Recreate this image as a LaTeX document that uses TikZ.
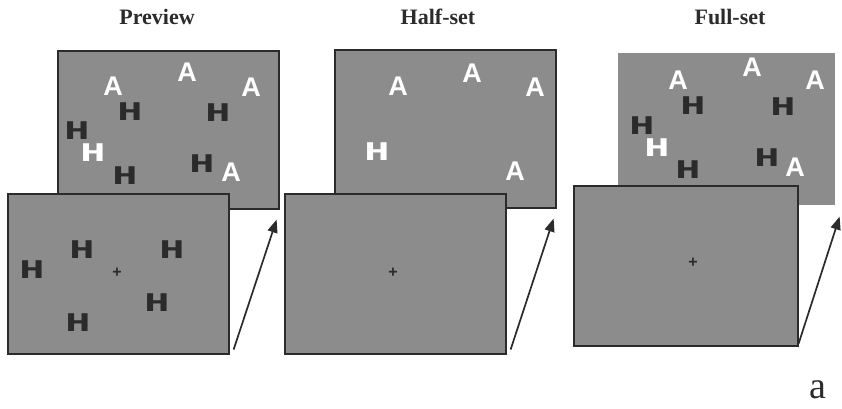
\documentclass[tikz,border=0pt]{standalone}
\usepackage{fontspec}
\setmainfont{Liberation Serif}
\newfontfamily\stimA{Liberation Sans}
\newfontfamily\stimH{Liberation Mono}
\usepackage{tikz}
\usetikzlibrary{arrows.meta}

\definecolor{screengray}{gray}{0.55}
\definecolor{inkdark}{gray}{0.17}

\tikzset{
	screen/.style={draw=inkdark, line width=1.6pt, fill=screengray, inner sep=0pt,
		anchor=north west, minimum width=221pt, minimum height=158pt},
	title/.style={font=\bfseries\fontsize{22}{24}\selectfont, text=inkdark},
	letA/.style={text=white, inner sep=0pt, font=\stimA\bfseries\fontsize{27}{27}\selectfont},
	letH/.style={inner sep=0pt, font=\stimH\bfseries\fontsize{27}{27}\selectfont},
	fixcross/.style={inner sep=0pt, text=inkdark, font=\stimA\bfseries\fontsize{16}{16}\selectfont},
	next/.style={-{Triangle[length=13pt,width=10pt]}, line width=1.7pt, draw=inkdark}
}
\newcommand{\wideH}{\scalebox{1.55}[1]{H}}

\begin{document}
\begin{tikzpicture}[x=1pt, y=-1pt]
	\useasboundingbox[fill=white] (0,0) rectangle (842,408);

	% titles
	\node[title] (t1) at (157,17) {Preview};
	\node[title] (t2) at (438,17) {Half-set};
	\node[title] (t3) at (730,17) {Full-set};

	% preview: search display behind, preview display in front
	\node[screen] (b1) at (57,50) {};
	\foreach \x/\y [count=\i] in {113/86, 187/72, 251/87, 231/172}
		\node[letA] (pa\i) at (\x,\y) {A};
	\foreach \x/\y [count=\i] in {130/112, 218/113, 77/131, 125/176, 202/164}
		\node[letH, text=inkdark] (ph\i) at (\x,\y) {\wideH};
	\node[letH, text=white] (pw) at (93,153) {\wideH};
	\node[screen, minimum height=160pt] (f1) at (7,193) {};
	\foreach \x/\y [count=\i] in {82/250, 172/250, 32/270, 157/303, 78/323}
		\node[letH, text=inkdark] (pf\i) at (\x,\y) {\wideH};
	\node[fixcross] (pc) at (117,273) {+};
	\draw[next] ([shift={(4,-5)}]f1.south east) -- ([shift={(-3,10)}]b1.south east);

	% half-set
	\node[screen] (b2) at (334,49) {};
	\foreach \x/\y [count=\i] in {398/86, 472/73, 535/87, 515/171}
		\node[letA] (ha\i) at (\x,\y) {A};
	\node[letH, text=white] (hw) at (377,152) {\wideH};
	\node[screen, minimum height=160pt] (f2) at (284,193) {};
	\node[fixcross] (hc) at (393,273) {+};
	\draw[next] ([shift={(4,-5)}]f2.south east) -- ([shift={(-3,10)}]b2.south east);

	% full-set (no frame on the back display)
	\node[screen, draw=none, minimum width=217pt, minimum height=152pt] (b3) at (617,52) {};
	\foreach \x/\y [count=\i] in {678/80, 752/67, 815/80, 795/167}
		\node[letA] (fa\i) at (\x,\y) {A};
	\foreach \x/\y [count=\i] in {693/106, 783/107, 642/126, 688/170, 767/158}
		\node[letH, text=inkdark] (fh\i) at (\x,\y) {\wideH};
	\node[letH, text=white] (fw) at (657,148) {\wideH};
	\node[screen, minimum width=224pt, minimum height=160pt] (f3) at (573,185) {};
	\node[fixcross] (fc) at (693,263) {+};
	\draw[next] ([shift={(0,-3)}]f3.south east) -- ([shift={(4,11)}]b3.south east);

	\node[font=\fontsize{38}{38}\selectfont, text=inkdark] (lab) at (818,390) {a};
\end{tikzpicture}
\end{document}
